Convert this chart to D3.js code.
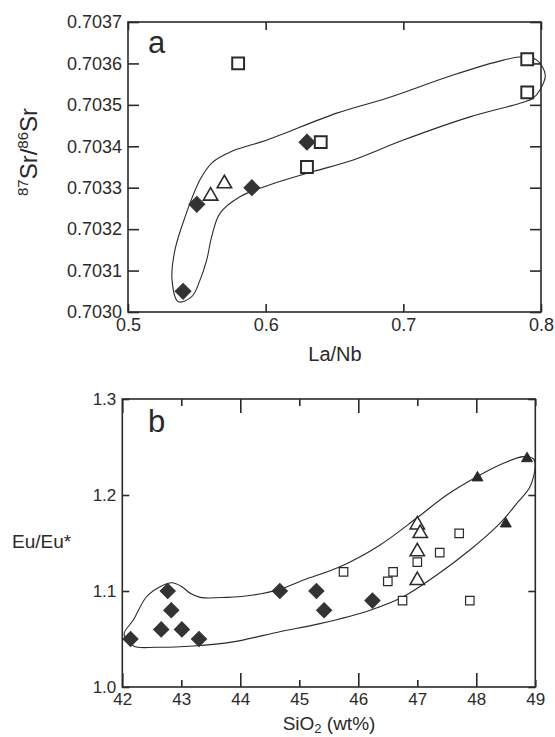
<!DOCTYPE html>
<html>
<head>
<meta charset="utf-8">
<script src="https://cdn.jsdelivr.net/npm/d3@7"></script>
<style>
  body { margin: 0; background: #fff; }
  svg { display: block; font-family: "Liberation Sans", Arial, Helvetica, sans-serif; }
</style>
</head>
<body>
<script>
// ---- panel a : 87Sr/86Sr vs La/Nb ----
var aXTicks = [0.5, 0.6, 0.7, 0.8];
var aYTicks = [0.7030, 0.7031, 0.7032, 0.7033, 0.7034, 0.7035, 0.7036, 0.7037];
var aDiamonds = [[0.54, 0.70305], [0.55, 0.70326], [0.59, 0.70330], [0.63, 0.70341]];
var aTriangles = [[0.56, 0.70328], [0.57, 0.70331]];
var aSquares = [[0.58, 0.70360], [0.63, 0.70335], [0.64, 0.70341], [0.79, 0.70361], [0.79, 0.70353]];
var aEnvelope = [
  [0.5365, 0.703025], [0.532, 0.703077], [0.5341, 0.70315], [0.5414, 0.703229],
  [0.5523, 0.703319], [0.561, 0.70336], [0.5763, 0.703389], [0.601, 0.703415],
  [0.6516, 0.70348], [0.6879, 0.703516], [0.7362, 0.703572], [0.7726, 0.703608],
  [0.7871, 0.703616], [0.797, 0.703608], [0.8031, 0.703572], [0.7992, 0.703536],
  [0.7941, 0.703516], [0.7847, 0.703504], [0.7484, 0.703471], [0.70, 0.703415],
  [0.6636, 0.703367], [0.6346, 0.703339], [0.6031, 0.703307], [0.5813, 0.703278],
  [0.5668, 0.703238], [0.5608, 0.703182], [0.5572, 0.703126], [0.5523, 0.703077],
  [0.5463, 0.703037]
];

// ---- panel b : Eu/Eu* vs SiO2 ----
var bXTicks = [42, 43, 44, 45, 46, 47, 48, 49];
var bYTicks = [1.0, 1.1, 1.2, 1.3];
var bDiamonds = [[42.14, 1.05], [42.77, 1.10], [42.83, 1.08], [42.66, 1.06], [43.01, 1.06],
  [43.3, 1.05], [44.67, 1.10], [45.29, 1.10], [45.42, 1.08], [46.24, 1.09]];
var bSquares = [[45.75, 1.12], [46.5, 1.11], [46.59, 1.12], [46.75, 1.09], [47.0, 1.13],
  [47.38, 1.14], [47.71, 1.16], [47.89, 1.09]];
var bOpenTriangles = [[47.0, 1.169], [47.05, 1.16], [47.0, 1.141], [47.0, 1.111]];
var bFilledTriangles = [[48.02, 1.218], [48.86, 1.238], [48.5, 1.17]];
var bEnvelope = [
  [42.03, 1.055], [42.19, 1.070], [42.41, 1.094], [42.64, 1.1045], [42.84, 1.1086],
  [43.01, 1.1045], [43.15, 1.0976], [43.32, 1.0934], [43.77, 1.0934], [44.22, 1.0958],
  [44.67, 1.1018], [45.07, 1.1115], [45.69, 1.1253], [46.37, 1.148], [46.99, 1.176],
  [47.50, 1.200], [48.01, 1.219], [48.46, 1.233], [48.80, 1.240], [48.97, 1.2375],
  [49.0, 1.231], [48.91, 1.2086], [48.71, 1.193], [48.4, 1.1705], [47.89, 1.1427],
  [47.33, 1.1167], [46.76, 1.094], [46.2, 1.080], [45.35, 1.066], [44.67, 1.0576],
  [43.88, 1.047], [43.2, 1.0427], [42.58, 1.0414], [42.19, 1.0427]
];

var W = 555, H = 737;
var ink = '#2a2a2a';

var svg = d3.select('body').append('svg')
  .attr('width', W)
  .attr('height', H);

function drawFrame(g, x, y, xTickLen, yTickLen) {
  var x0 = x.range()[0], x1 = x.range()[1];
  var y0 = y.range()[0], y1 = y.range()[1];

  // bottom axis with labels
  g.append('g')
    .attr('transform', `translate(0,${y0})`)
    .call(d3.axisBottom(x).tickValues(x.tickVals).tickSize(-xTickLen).tickPadding(6).tickFormat(x.fmt))
    .attr('class', 'xb');
  // top axis, ticks only
  g.append('g')
    .attr('transform', `translate(0,${y1})`)
    .call(d3.axisTop(x).tickValues(x.tickVals).tickSize(-xTickLen).tickFormat(''))
    .attr('class', 'xt');
  // left axis with labels
  g.append('g')
    .attr('transform', `translate(${x0},0)`)
    .call(d3.axisLeft(y).tickValues(y.tickVals).tickSize(-yTickLen).tickPadding(6).tickFormat(y.fmt))
    .attr('class', 'yl');
  // right axis, ticks only
  g.append('g')
    .attr('transform', `translate(${x1},0)`)
    .call(d3.axisRight(y).tickValues(y.tickVals).tickSize(-yTickLen).tickFormat(''));

  g.selectAll('.domain').remove();
  g.selectAll('.tick line').attr('stroke', ink).attr('stroke-width', 1.6);
  g.selectAll('.tick text').attr('fill', ink).attr('font-family', null);

  g.append('rect')
    .attr('x', x0).attr('y', y1)
    .attr('width', x1 - x0).attr('height', y0 - y1)
    .attr('fill', 'none')
    .attr('stroke', ink)
    .attr('stroke-width', 1.6);
}

function drawEnvelope(g, x, y, pts) {
  var line = d3.line()
    .x(function(d) { return x(d[0]); })
    .y(function(d) { return y(d[1]); })
    .curve(d3.curveCatmullRomClosed.alpha(0.5));
  g.append('path')
    .datum(pts)
    .attr('d', line)
    .attr('fill', 'none')
    .attr('stroke', ink)
    .attr('stroke-width', 1.1);
}

function drawMarks(g, x, y, pts, type, size, fill, stroke, sw, rot) {
  var sym = d3.symbol().type(type).size(size);
  g.selectAll(null)
    .data(pts)
    .enter()
    .append('path')
    .attr('d', sym)
    .attr('transform', function(d) {
      return `translate(${x(d[0])},${y(d[1])})rotate(${rot || 0})`;
    })
    .attr('fill', fill)
    .attr('stroke', stroke)
    .attr('stroke-width', sw);
}

// ================= panel a =================
var ga = svg.append('g');
var xa = d3.scaleLinear().domain([0.5, 0.8]).range([128, 541]);
var ya = d3.scaleLinear().domain([0.7030, 0.7037]).range([312, 22]);
xa.tickVals = aXTicks; xa.fmt = d3.format('.1f');
ya.tickVals = aYTicks; ya.fmt = d3.format('.4f');

drawFrame(ga, xa, ya, 8, 11);
ga.selectAll('.tick text').attr('font-size', 18);

drawEnvelope(ga, xa, ya, aEnvelope);
drawMarks(ga, xa, ya, aSquares, d3.symbolSquare, 140, '#fff', ink, 2, 0);
drawMarks(ga, xa, ya, aTriangles, d3.symbolTriangle, 90, '#fff', ink, 1.6, 0);
drawMarks(ga, xa, ya, aDiamonds, d3.symbolSquare, 125, '#333', '#333', 1, 45);

ga.append('text')
  .attr('x', 148).attr('y', 53)
  .attr('font-size', 31)
  .attr('fill', ink)
  .text('a');

ga.append('text')
  .attr('x', 335).attr('y', 361)
  .attr('text-anchor', 'middle')
  .attr('font-size', 20)
  .attr('fill', ink)
  .text('La/Nb');

var yla = ga.append('text')
  .attr('transform', 'translate(37,152)rotate(-90)')
  .attr('text-anchor', 'middle')
  .attr('font-size', 24)
  .attr('fill', ink);
yla.append('tspan').attr('font-size', 15).attr('dy', -9).text('87');
yla.append('tspan').attr('dy', 9).text('Sr/');
yla.append('tspan').attr('font-size', 15).attr('dy', -9).text('86');
yla.append('tspan').attr('dy', 9).text('Sr');

// ================= panel b =================
var gb = svg.append('g');
var xb = d3.scaleLinear().domain([42, 49]).range([122.3, 535.3]);
var yb = d3.scaleLinear().domain([1.0, 1.3]).range([687, 399]);
xb.tickVals = bXTicks; xb.fmt = d3.format('d');
yb.tickVals = bYTicks; yb.fmt = d3.format('.1f');

drawFrame(gb, xb, yb, 14, 7);
gb.selectAll('.tick text').attr('font-size', 17);
// odd SiO2 ticks are short
gb.selectAll('.xb .tick line, .xt .tick line')
  .attr('y2', function(d) { var s = d % 2 ? 7 : 14; return d3.select(this.parentNode.parentNode).classed('xt') ? s : -s; });

drawEnvelope(gb, xb, yb, bEnvelope);
drawMarks(gb, xb, yb, bSquares, d3.symbolSquare, 72, '#fff', ink, 1.2, 0);
drawMarks(gb, xb, yb, bOpenTriangles, d3.symbolTriangle, 90, '#fff', ink, 1.5, 0);
drawMarks(gb, xb, yb, bFilledTriangles, d3.symbolTriangle, 52, ink, ink, 1, 0);
drawMarks(gb, xb, yb, bDiamonds, d3.symbolSquare, 115, '#333', '#333', 1, 45);

gb.append('text')
  .attr('x', 148).attr('y', 432)
  .attr('font-size', 31)
  .attr('fill', ink)
  .text('b');

gb.append('text')
  .attr('x', 12).attr('y', 548)
  .attr('font-size', 19)
  .attr('fill', ink)
  .text('Eu/Eu*');

var xlb = gb.append('text')
  .attr('x', 329).attr('y', 730)
  .attr('text-anchor', 'middle')
  .attr('font-size', 19)
  .attr('fill', ink);
xlb.append('tspan').text('SiO');
xlb.append('tspan').attr('font-size', 13).attr('dy', 3).text('2');
xlb.append('tspan').attr('dy', -3).text(' (wt%)');
</script>
</body>
</html>
